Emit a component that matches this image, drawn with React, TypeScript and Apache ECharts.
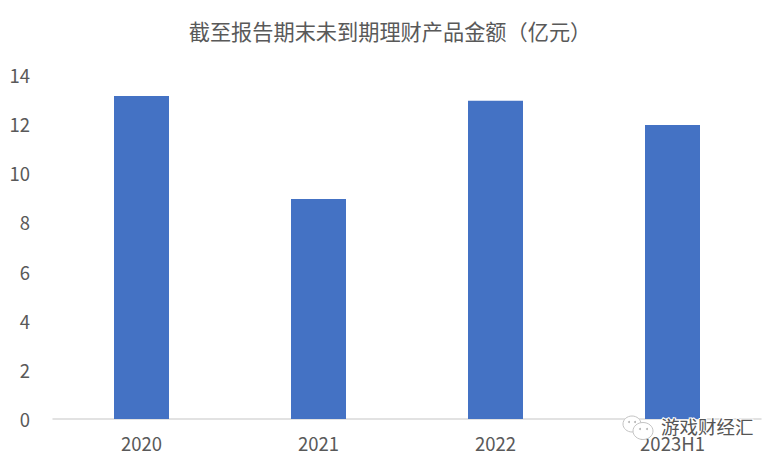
import React, { useEffect, useRef } from "react";
import * as echarts from "echarts";

const categories = ["2020", "2021", "2022", "2023H1"];
const values = [13.15, 8.95, 12.95, 11.97];
const ticks = { min: 0, max: 14, interval: 2 };
const title = "截至报告期末未到期理财产品金额（亿元）";
const watermark = "游戏财经汇";
const FONT = '"Noto Sans CJK SC", "Noto Sans", sans-serif';

export default function App() {
  const ref = useRef<HTMLDivElement>(null);
  useEffect(() => {
    const chart = echarts.init(ref.current!, undefined, { renderer: "svg" });
    const bubble = { fill: "#fff", stroke: "#c4c4c4", lineWidth: 1 };
    const dot = { fill: "#b5b5b5" };
    chart.setOption({
      animation: false,
      backgroundColor: "#fff",
      title: {
        text: title,
        left: 385,
        top: 15,
        textAlign: "center",
        textStyle: { fontFamily: FONT, fontSize: 21.2, fontWeight: "normal", color: "#595959" },
      },
      grid: { left: 53, right: 19, top: 75, bottom: 44 },
      xAxis: {
        type: "category",
        data: categories,
        axisLine: { lineStyle: { color: "#d9d9d9", width: 1.5 } },
        axisTick: { show: false },
        axisLabel: { fontFamily: FONT, fontSize: 18.5, color: "#595959", margin: 15 },
      },
      yAxis: {
        type: "value",
        min: ticks.min,
        max: ticks.max,
        interval: ticks.interval,
        axisLine: { show: false },
        axisTick: { show: false },
        splitLine: { show: false },
        axisLabel: { fontFamily: FONT, fontSize: 18.5, color: "#595959", margin: 23 },
      },
      series: [
        { type: "bar", data: values, barWidth: 55, itemStyle: { color: "#4472c4" } },
      ],
      graphic: [
        { type: "ellipse", shape: { cx: 632, cy: 424, rx: 9, ry: 8 }, style: bubble, z: 100 },
        { type: "circle", shape: { cx: 629, cy: 422, r: 1 }, style: dot, z: 101 },
        { type: "circle", shape: { cx: 635, cy: 422, r: 1 }, style: dot, z: 101 },
        { type: "ellipse", shape: { cx: 643, cy: 431, rx: 10, ry: 8.5 }, style: bubble, z: 102 },
        { type: "circle", shape: { cx: 640, cy: 429, r: 1 }, style: dot, z: 103 },
        { type: "circle", shape: { cx: 647, cy: 429, r: 1 }, style: dot, z: 103 },
        {
          type: "text",
          x: 661,
          y: 417,
          z: 104,
          style: {
            text: watermark,
            fontFamily: FONT,
            fontSize: 18.5,
            fill: "#555",
            stroke: "#fff",
            lineWidth: 2,
          },
        },
      ],
    });
    return () => chart.dispose();
  }, []);
  return <div ref={ref} style={{ position: "fixed", left: 0, top: 0, width: 780, height: 463 }} />;
}
